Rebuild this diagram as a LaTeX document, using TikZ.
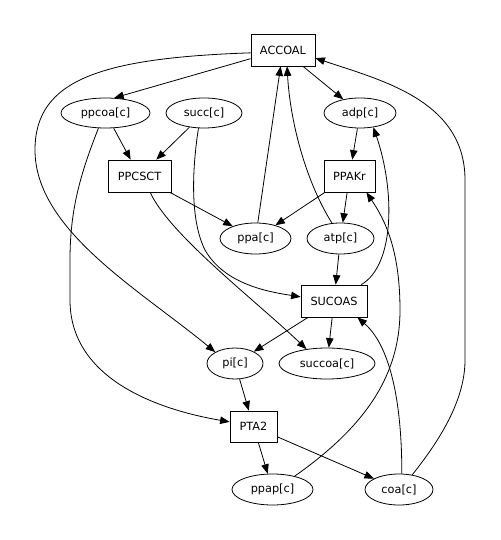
\documentclass[tikz,border=0pt]{standalone}
\usepackage{fontspec}
\setmainfont{DejaVu Sans}
\usetikzlibrary{shapes.geometric,arrows.meta}
\tikzset{
  every node/.style={font=\fontsize{11.3}{13}\selectfont, inner sep=0pt, line width=0.8pt},
  rxn/.style={draw, rectangle, minimum height=32pt},
  met/.style={draw, ellipse, minimum height=31pt},
  edge/.style={line width=0.8pt, -{Triangle[length=9.5pt,width=7.5pt]}},
}
\begin{document}
\begin{tikzpicture}[x=1pt,y=-1pt]
\useasboundingbox[fill=white] (0,0) rectangle (500,540);
% reactions
\node[rxn, minimum width=64pt] (ACCOAL) at (283,50) {ACCOAL};
\node[rxn, minimum width=63pt] (PPCSCT) at (139.5,176) {PPCSCT};
\node[rxn, minimum width=51pt] (PPAKr) at (349.5,176) {PPAKr};
\node[rxn, minimum width=66pt] (SUCOAS) at (334,301) {SUCOAS};
\node[rxn, minimum width=47pt, minimum height=31pt] (PTA2) at (253.5,426.5) {PTA2};
% metabolites
\node[met, minimum width=89pt, minimum height=30pt] (ppcoa) at (105.5,113) {ppcoa[c]};
\node[met, minimum width=76pt, minimum height=30pt] (succ) at (204,113) {succ[c]};
\node[met, minimum width=72pt, minimum height=30pt] (adp) at (360,113) {adp[c]};
\node[met, minimum width=71pt] (ppa) at (255.5,238.5) {ppa[c]};
\node[met, minimum width=67pt] (atp) at (340.5,238.5) {atp[c]};
\node[met, minimum width=56pt] (pi) at (235,363.5) {pi[c]};
\node[met, minimum width=96pt] (succoa) at (327,363.5) {succoa[c]};
\node[met, minimum width=81pt] (ppap) at (272.5,489.5) {ppap[c]};
\node[met, minimum width=68pt] (coa) at (399,489.5) {coa[c]};
% straight edges
\draw[edge] (ACCOAL.-165) -- (ppcoa.60);
\draw[edge] (ACCOAL) -- (adp);
\draw[edge] (ppcoa) -- (PPCSCT);
\draw[edge] (succ) -- (PPCSCT);
\draw[edge] (PPCSCT) -- (ppa);
\draw[edge] (PPAKr) -- (ppa);
\draw[edge] (ppa) -- (ACCOAL);
\draw[edge] (adp) -- (PPAKr);
\draw[edge] (PPAKr) -- (atp);
\draw[edge] (atp) -- (SUCOAS);
\draw[edge] (SUCOAS) -- (pi);
\draw[edge] (SUCOAS) -- (succoa);
\draw[edge] (pi) -- (PTA2);
\draw[edge] (PTA2) -- (ppap);
\draw[edge] (PTA2) -- (coa);
% curved edges
\coordinate (w1) at (35,150);
\draw[edge] (ACCOAL.185) .. controls (100,58) and (35,80) .. (w1)
   .. controls (35,230) and (140,290) .. (pi.150);
\coordinate (w2) at (70,260);
\coordinate (w3) at (70,300);
\draw[edge] (ppcoa.245) .. controls (80,175) and (70,210) .. (w2) -- (w3)
   .. controls (70,380) and (160,410) .. (PTA2.169);
\coordinate (w4) at (205,250);
\draw[edge] (succ.250) .. controls (192,170) and (190,220) .. (w4)
   .. controls (225,285) and (270,292) .. (SUCOAS.173);
\draw[edge] (PPCSCT.-57) .. controls (170,235) and (255,300) .. (succoa.145);
\draw[edge] (atp.119) .. controls (305,180) and (290,120) .. (ACCOAL.-76);
\draw[edge] (SUCOAS.31) .. controls (395,265) and (395,190) .. (adp.-47);
\coordinate (w5) at (400,310);
\draw[edge] (ppap.31) .. controls (360,430) and (400,380) .. (w5)
   .. controls (400,250) and (385,220) .. (PPAKr.-44);
\draw[edge] (coa.80) .. controls (402,420) and (395,350) .. (SUCOAS.-35);
\coordinate (w6) at (465,360);
\coordinate (w7) at (465,180);
\draw[edge] (coa.48) .. controls (440,440) and (465,400) .. (w6) -- (w7)
   .. controls (465,100) and (380,80) .. (ACCOAL.-14);
\end{tikzpicture}
\end{document}
